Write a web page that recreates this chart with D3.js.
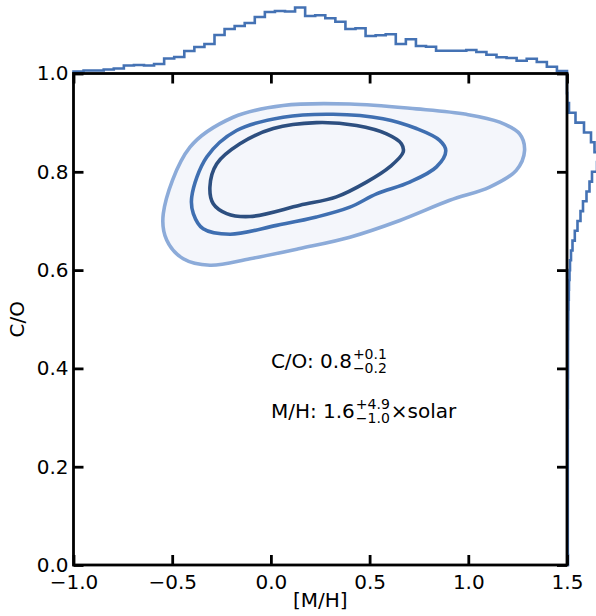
<!DOCTYPE html>
<html>
<head>
<meta charset="utf-8">
<script src="https://cdn.jsdelivr.net/npm/d3@7"></script>
<style>
  html, body { margin: 0; padding: 0; background: #ffffff; }
  svg { display: block; }
  text { font-family: "DejaVu Sans", sans-serif; fill: #000; }
</style>
</head>
<body>
<script>
// ---------------- DATA ----------------
const xDomain = [-1.0, 1.5];
const yDomain = [0.0, 1.0];
const xTicks = [-1.0, -0.5, 0.0, 0.5, 1.0, 1.5];
const xTickLabels = ["\u22121.0", "\u22120.5", "0.0", "0.5", "1.0", "1.5"];
const yTicks = [0.0, 0.2, 0.4, 0.6, 0.8, 1.0];
const yTickLabels = ["0.0", "0.2", "0.4", "0.6", "0.8", "1.0"];
const xLabel = "[M/H]";
const yLabel = "C/O";

// marginal histogram of [M/H] (49 equal bins over the x domain), relative counts
const mhCounts = [2, 3, 3, 4, 5, 8, 8.5, 8, 9.5, 15, 16.5, 22.5, 26.5, 29.5, 38.5, 44.5, 47.5, 50.5,
  56.5, 61.5, 62.5, 62, 66, 57.5, 58.2, 55.2, 51.8, 44.5, 45.2, 37.5, 38.2, 39.2, 29.5, 34.2,
  27.5, 26.8, 22.8, 22.8, 22.8, 23.5, 21.5, 18.8, 16.2, 15.5, 12.8, 14.8, 11.5, 6.8, 2.5];

// marginal histogram of C/O (50 equal bins from 0 to 1, low to high), relative counts
const coCounts = [1.0, 0.8, 0.8, 0.8, 0.8, 0.8, 0.8, 0.8, 0.8, 0.8, 0.8, 0.8, 0.8, 0.8, 0.8, 0.8,
  0.9, 0.9, 0.9, 1, 1, 1, 1, 1.1, 1.2, 1.3, 1.5, 1.8, 2, 2.5, 3, 4, 5.5, 7.8, 10.5, 13.5, 16,
  19.5, 22.5, 25, 30, 31, 27.5, 24, 17, 8.5, 2, 0.3, 0, 0];

// KDE contour levels ([M/H], C/O), outer to inner
const contourOuter = [[-0.545, 0.715], [-0.528, 0.661], [-0.444, 0.623], [-0.309, 0.610], [-0.106, 0.623],
  [0.147, 0.644], [0.400, 0.667], [0.653, 0.701], [0.906, 0.742], [1.108, 0.769], [1.243, 0.803],
  [1.285, 0.843], [1.260, 0.877], [1.159, 0.901], [0.990, 0.917], [0.737, 0.928], [0.400, 0.938],
  [0.062, 0.935], [-0.191, 0.911], [-0.410, 0.850]];
const contourMiddle = [[-0.401, 0.749], [-0.393, 0.715], [-0.343, 0.684], [-0.207, 0.673], [0.029, 0.691],
  [0.231, 0.708], [0.400, 0.728], [0.535, 0.755], [0.703, 0.779], [0.839, 0.810], [0.886, 0.843],
  [0.855, 0.864], [0.737, 0.888], [0.568, 0.908], [0.315, 0.917], [0.062, 0.911], [-0.174, 0.884],
  [-0.325, 0.830]];
const contourInner = [[-0.309, 0.769], [-0.275, 0.816], [-0.157, 0.857], [0.012, 0.888], [0.231, 0.900],
  [0.434, 0.894], [0.586, 0.877], [0.661, 0.857], [0.670, 0.840], [0.602, 0.810], [0.484, 0.779],
  [0.332, 0.749], [0.147, 0.732], [-0.106, 0.709], [-0.224, 0.715], [-0.292, 0.735]];

// annotations: [x, y, main, sup, sub, tail]
const annotations = [
  [0.0, 0.40, "C/O: 0.8", "+0.1", "\u22120.2", ""],
  [0.0, 0.30, "M/H: 1.6", "+4.9", "\u22121.0", "\u00D7solar"]
];

// ---------------- LAYOUT ----------------
const W = 596, H = 616;
const L = 73.5, R = 567, T = 73.5, B = 565;
const histColor = "#4472b4";

const svg = d3.select("body").append("svg").attr("width", W).attr("height", H);
svg.append("rect").attr("width", W).attr("height", H).attr("fill", "#fff");

const x = d3.scaleLinear().domain(xDomain).range([L, R]);
const y = d3.scaleLinear().domain(yDomain).range([B, T]);

// ---- contours ----
const line = d3.line().x(d => x(d[0])).y(d => y(d[1])).curve(d3.curveCatmullRomClosed.alpha(0.5));
svg.append("path").attr("d", line(contourOuter)).attr("fill", "#f4f6fb")
  .attr("stroke", "#8cabd9").attr("stroke-width", 3.6);
svg.append("path").attr("d", line(contourMiddle)).attr("fill", "none")
  .attr("stroke", "#3f6fb1").attr("stroke-width", 3.6);
svg.append("path").attr("d", line(contourInner)).attr("fill", "none")
  .attr("stroke", "#2d4f80").attr("stroke-width", 3.6);

// ---- top histogram ----
const yTop = d3.scaleLinear().domain([0, 73.5]).range([T, 0]);
const nTop = mhCounts.length;
const topEdges = d3.range(nTop + 1).map(i => xDomain[0] + (xDomain[1] - xDomain[0]) * i / nTop);
const topPts = [[topEdges[0], 0]];
mhCounts.forEach((c, i) => { topPts.push([topEdges[i], c]); topPts.push([topEdges[i + 1], c]); });
topPts.push([topEdges[nTop], 0]);
svg.append("path")
  .attr("d", d3.line().x(d => x(d[0])).y(d => yTop(d[1]))(topPts))
  .attr("fill", "none").attr("stroke", histColor).attr("stroke-width", 2.6)
  .attr("stroke-linejoin", "miter");

// ---- right histogram ----
const xRight = d3.scaleLinear().domain([0, 30]).range([R, R + 30]);
const nR = coCounts.length;
const rEdges = d3.range(nR + 1).map(i => yDomain[0] + (yDomain[1] - yDomain[0]) * i / nR);
const rPts = [[0, rEdges[0]]];
coCounts.forEach((c, i) => { rPts.push([c, rEdges[i]]); rPts.push([c, rEdges[i + 1]]); });
rPts.push([0, rEdges[nR]]);
svg.append("path")
  .attr("d", d3.line().x(d => xRight(d[0])).y(d => y(d[1]))(rPts))
  .attr("fill", "none").attr("stroke", histColor).attr("stroke-width", 2.6);

// ---- frame ----
svg.append("rect").attr("x", L).attr("y", T).attr("width", R - L).attr("height", B - T)
  .attr("fill", "none").attr("stroke", "#000").attr("stroke-width", 2.8);

// ---- ticks (inward on all four sides) ----
const tl = 10;
const axB = svg.append("g").attr("transform", `translate(0,${B})`)
  .call(d3.axisBottom(x).tickValues(xTicks).tickFormat((d, i) => xTickLabels[i]).tickSize(-tl).tickPadding(10));
const axT = svg.append("g").attr("transform", `translate(0,${T})`)
  .call(d3.axisTop(x).tickValues(xTicks).tickFormat("").tickSize(-tl));
const axL = svg.append("g").attr("transform", `translate(${L},0)`)
  .call(d3.axisLeft(y).tickValues(yTicks).tickFormat((d, i) => yTickLabels[i]).tickSize(-tl).tickPadding(5));
const axRt = svg.append("g").attr("transform", `translate(${R},0)`)
  .call(d3.axisRight(y).tickValues(yTicks).tickFormat("").tickSize(-tl));
[axB, axT, axL, axRt].forEach(g => {
  g.select(".domain").remove();
  g.selectAll(".tick line").attr("stroke", "#000").attr("stroke-width", 2.8);
  g.selectAll(".tick text").attr("font-family", "DejaVu Sans").attr("font-size", 20).attr("fill", "#000");
});
axB.selectAll(".tick text").attr("dy", "0.71em");

// ---- axis labels ----
svg.append("text").attr("x", (L + R) / 2).attr("y", 607).attr("text-anchor", "middle")
  .attr("font-size", 20).text(xLabel);
svg.append("text").attr("transform", `translate(24,${(T + B) / 2}) rotate(-90)`)
  .attr("text-anchor", "middle").attr("font-size", 20).text(yLabel);

// ---- annotations ----
annotations.forEach(a => {
  const [ax, ay, main, sup, sub, tail] = a;
  const bx = x(ax), by = y(ay);
  const t = svg.append("text").attr("x", bx).attr("y", by).attr("font-size", 20).text(main);
  const w = t.node().getComputedTextLength();
  const sx = bx + w + 1;
  const s1 = svg.append("text").attr("x", sx).attr("y", by - 9).attr("font-size", 14).text(sup);
  const s2 = svg.append("text").attr("x", sx).attr("y", by + 5).attr("font-size", 14).text(sub);
  const sw = Math.max(s1.node().getComputedTextLength(), s2.node().getComputedTextLength());
  if (tail) svg.append("text").attr("x", sx + sw + 1).attr("y", by).attr("font-size", 20).text(tail);
});
</script>
</body>
</html>
